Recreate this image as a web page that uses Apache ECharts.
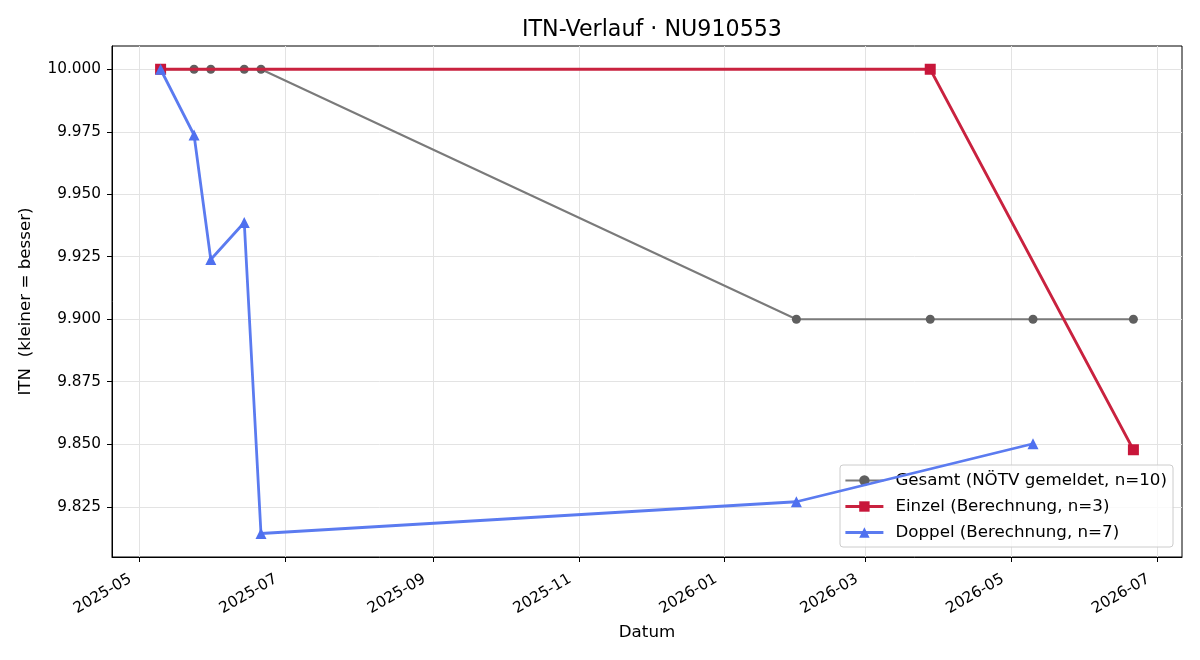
<!DOCTYPE html>
<html>
<head>
<meta charset="utf-8">
<script src="https://cdn.jsdelivr.net/npm/echarts@6/dist/echarts.min.js"></script>
<style>html,body{margin:0;padding:0;background:#fff}#c{width:1200px;height:660px}</style>
</head>
<body>
<div id="c"></div>
<script>
// ---- data ----
const gesamtDates = ['2025-05-10','2025-05-24','2025-05-31','2025-06-14','2025-06-21','2026-01-31','2026-03-28','2026-05-10','2026-06-21'];
const gesamtValues = [10.0, 10.0, 10.0, 10.0, 10.0, 9.9, 9.9, 9.9, 9.9];
const einzelDates = ['2025-05-10','2026-03-28','2026-06-21'];
const einzelValues = [10.0, 10.0, 9.8478];
const doppelDates = ['2025-05-10','2025-05-24','2025-05-31','2025-06-14','2025-06-21','2026-01-31','2026-05-10'];
const doppelValues = [10.0, 9.9737, 9.9239, 9.9387, 9.8143, 9.827, 9.8502];
const xTickLabels = ['2025-05','2025-07','2025-09','2025-11','2026-01','2026-03','2026-05','2026-07'];
const yTickValues = [9.825, 9.85, 9.875, 9.9, 9.925, 9.95, 9.975, 10.0];
const seriesNames = ['Gesamt (NÖTV gemeldet, n=10)', 'Einzel (Berechnung, n=3)', 'Doppel (Berechnung, n=7)'];
const xMin = '2025-04-19T16:00:00Z';
const xMax = '2026-07-11T08:00:00Z';
const yMin = 9.8049;
const yMax = 10.0093;

const P = s => Date.parse(s.length === 10 ? s + 'T00:00:00Z' : s);
const xTickValues = xTickLabels.map(l => P(l + '-01'));
const labelOf = {};
xTickValues.forEach((v, i) => { labelOf[v] = xTickLabels[i]; });
const pair = (ds, vs) => ds.map((d, i) => [P(d), vs[i]]);

const FONT = 'DejaVu Sans';
const chart = echarts.init(document.getElementById('c'));
chart.setOption({
  animation: false,
  backgroundColor: '#fff',
  textStyle: { fontFamily: FONT },
  title: {
    text: 'ITN-Verlauf · NU910553',
    left: 647, top: 14, textAlign: 'center',
    textStyle: { fontFamily: FONT, fontSize: 22.2, fontWeight: 'normal', color: '#000' }
  },
  grid: { left: 112, right: 18, top: 46, bottom: 103, show: true, borderColor: '#000', borderWidth: 1, backgroundColor: '#fff' },
  legend: {
    orient: 'vertical', right: 27, bottom: 113,
    backgroundColor: 'rgba(255,255,255,0.8)', borderColor: '#cccccc', borderWidth: 1, borderRadius: 3,
    padding: [7, 6, 6, 4], itemGap: 9, itemWidth: 38, itemHeight: 13,
    textStyle: { fontFamily: FONT, fontSize: 16.7, color: '#000', padding: [0, 0, 0, 7] },
    data: [
      { name: seriesNames[0], lineStyle: { width: 2 } },
      { name: seriesNames[1], lineStyle: { width: 2.8 } },
      { name: seriesNames[2], lineStyle: { width: 2.8 } }
    ]
  },
  xAxis: {
    type: 'value', min: P(xMin), max: P(xMax),
    name: 'Datum', nameLocation: 'middle', nameGap: 67,
    nameTextStyle: { fontFamily: FONT, fontSize: 16.7, color: '#000' },
    axisLine: { lineStyle: { color: '#000', width: 1 } },
    axisTick: { show: true, length: 5, customValues: xTickValues, lineStyle: { color: '#000' } },
    axisLabel: { customValues: xTickValues, rotate: 30, fontFamily: FONT, fontSize: 15.3, color: '#000', margin: 16,
      padding: [0, 10, 0, 0], formatter: v => labelOf[v] || '' },
    splitLine: { show: true, lineStyle: { color: '#e3e3e3', width: 1 } }
  },
  yAxis: {
    type: 'value', min: yMin, max: yMax,
    name: 'ITN  (kleiner = besser)', nameLocation: 'middle', nameGap: 78,
    nameTextStyle: { fontFamily: FONT, fontSize: 16.7, color: '#000' },
    axisLine: { show: true, lineStyle: { color: '#000', width: 1 } },
    axisTick: { show: true, length: 5, customValues: yTickValues, lineStyle: { color: '#000' } },
    axisLabel: { customValues: yTickValues, fontFamily: FONT, fontSize: 15.3, color: '#000', margin: 11,
      formatter: v => v.toFixed(3) },
    splitLine: { show: true, lineStyle: { color: '#e3e3e3', width: 1 } }
  },
  series: [
    {
      name: seriesNames[0], type: 'line', data: pair(gesamtDates, gesamtValues),
      symbol: 'circle', symbolSize: 9, showAllSymbol: true,
      lineStyle: { color: '#7a7a7a', width: 2 },
      itemStyle: { color: '#5f5f5f', borderWidth: 0 }, z: 2
    },
    {
      name: seriesNames[1], type: 'line', data: pair(einzelDates, einzelValues),
      symbol: 'rect', symbolSize: 11, showAllSymbol: true,
      lineStyle: { color: '#c9223f', width: 2.8 },
      itemStyle: { color: '#c8163a', borderWidth: 0 }, z: 3
    },
    {
      name: seriesNames[2], type: 'line', data: pair(doppelDates, doppelValues),
      symbol: 'triangle', symbolSize: 11, showAllSymbol: true,
      lineStyle: { color: '#5b7bf0', width: 2.8 },
      itemStyle: { color: '#4f70ef', borderWidth: 0 }, z: 4
    }
  ]
});
</script>
</body>
</html>
